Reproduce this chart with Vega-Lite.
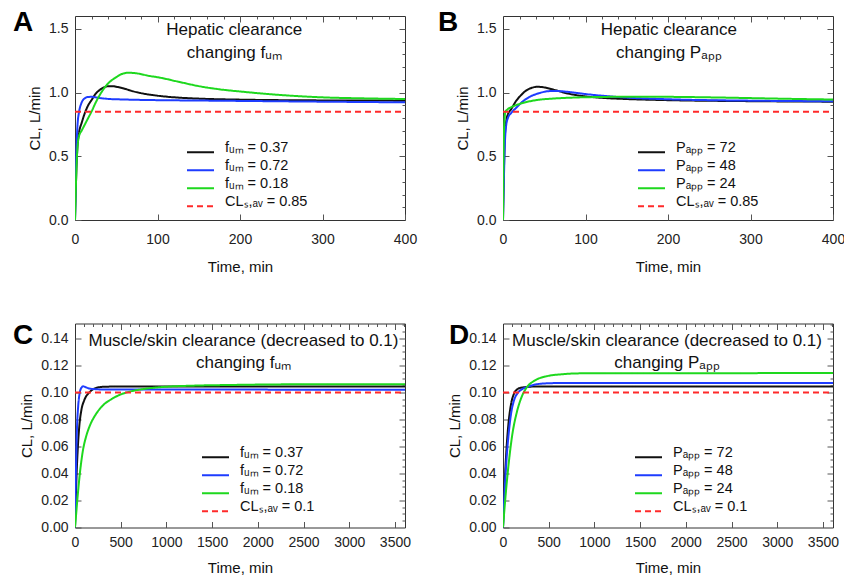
{
  "$schema": "https://vega.github.io/schema/vega-lite/v6.json",
  "padding": {"left": 12, "top": 8, "right": 0, "bottom": 0},
  "background": "white",
  "config": {
    "font": "Liberation Sans",
    "view": {"stroke": "#333333", "strokeWidth": 1},
    "axis": {"domain": false, "grid": false, "tickColor": "#555555", "tickSize": 6, "offset": -6, "tickWidth": 1, "labelFontSize": 14, "labelColor": "#222222", "labelFont": "Liberation Sans", "titleFont": "Liberation Sans", "titleFontSize": 15, "titleFontWeight": "normal", "titleColor": "#111111", "labelFlush": false, "labelOverlap": false},
    "axisX": {"labelPadding": 12, "titlePadding": 13},
    "axisY": {"labelPadding": 7, "titlePadding": 6},
    "legend": {"title": null, "symbolType": "stroke", "symbolSize": 729, "symbolStrokeWidth": 2, "labelFontSize": 14.5, "labelFont": "Liberation Sans", "labelColor": "#111111", "labelBaseline": "alphabetic", "clipHeight": 9.5, "rowPadding": 0, "labelOffset": 10, "orient": "none"}
  },
  "resolve": {"scale": {"color": "independent", "strokeDash": "independent"}, "legend": {"color": "independent", "strokeDash": "independent"}},
  "columns": 2,
  "bounds": "flush",
  "spacing": {"row": 103.5, "column": 98},
  "concat": [
    {
      "width": 330, "height": 204,
      "resolve": {"axis": {"x": "independent", "y": "independent"}},
      "layer": [
        {
          "data": {"values": [
            {"t":0,"cl":0,"s":"f\u1d64\u2098 = 0.37"},{"t":1,"cl":0.25,"s":"f\u1d64\u2098 = 0.37"},{"t":2,"cl":0.45,"s":"f\u1d64\u2098 = 0.37"},{"t":3,"cl":0.58,"s":"f\u1d64\u2098 = 0.37"},{"t":5,"cl":0.69,"s":"f\u1d64\u2098 = 0.37"},{"t":8,"cl":0.76,"s":"f\u1d64\u2098 = 0.37"},{"t":12,"cl":0.84,"s":"f\u1d64\u2098 = 0.37"},{"t":16,"cl":0.9,"s":"f\u1d64\u2098 = 0.37"},{"t":20,"cl":0.94,"s":"f\u1d64\u2098 = 0.37"},{"t":25,"cl":0.99,"s":"f\u1d64\u2098 = 0.37"},{"t":30,"cl":1.02,"s":"f\u1d64\u2098 = 0.37"},{"t":35,"cl":1.04,"s":"f\u1d64\u2098 = 0.37"},{"t":40,"cl":1.05,"s":"f\u1d64\u2098 = 0.37"},{"t":45,"cl":1.05,"s":"f\u1d64\u2098 = 0.37"},{"t":50,"cl":1.045,"s":"f\u1d64\u2098 = 0.37"},{"t":60,"cl":1.03,"s":"f\u1d64\u2098 = 0.37"},{"t":70,"cl":1.01,"s":"f\u1d64\u2098 = 0.37"},{"t":80,"cl":0.995,"s":"f\u1d64\u2098 = 0.37"},{"t":100,"cl":0.975,"s":"f\u1d64\u2098 = 0.37"},{"t":125,"cl":0.96,"s":"f\u1d64\u2098 = 0.37"},{"t":150,"cl":0.952,"s":"f\u1d64\u2098 = 0.37"},{"t":200,"cl":0.944,"s":"f\u1d64\u2098 = 0.37"},{"t":250,"cl":0.94,"s":"f\u1d64\u2098 = 0.37"},{"t":300,"cl":0.938,"s":"f\u1d64\u2098 = 0.37"},{"t":350,"cl":0.937,"s":"f\u1d64\u2098 = 0.37"},{"t":400,"cl":0.936,"s":"f\u1d64\u2098 = 0.37"},
            {"t":0,"cl":0,"s":"f\u1d64\u2098 = 0.72"},{"t":1,"cl":0.35,"s":"f\u1d64\u2098 = 0.72"},{"t":2,"cl":0.6,"s":"f\u1d64\u2098 = 0.72"},{"t":3,"cl":0.74,"s":"f\u1d64\u2098 = 0.72"},{"t":5,"cl":0.85,"s":"f\u1d64\u2098 = 0.72"},{"t":8,"cl":0.92,"s":"f\u1d64\u2098 = 0.72"},{"t":12,"cl":0.955,"s":"f\u1d64\u2098 = 0.72"},{"t":16,"cl":0.965,"s":"f\u1d64\u2098 = 0.72"},{"t":20,"cl":0.966,"s":"f\u1d64\u2098 = 0.72"},{"t":25,"cl":0.962,"s":"f\u1d64\u2098 = 0.72"},{"t":30,"cl":0.957,"s":"f\u1d64\u2098 = 0.72"},{"t":40,"cl":0.95,"s":"f\u1d64\u2098 = 0.72"},{"t":60,"cl":0.945,"s":"f\u1d64\u2098 = 0.72"},{"t":80,"cl":0.942,"s":"f\u1d64\u2098 = 0.72"},{"t":100,"cl":0.94,"s":"f\u1d64\u2098 = 0.72"},{"t":150,"cl":0.937,"s":"f\u1d64\u2098 = 0.72"},{"t":200,"cl":0.934,"s":"f\u1d64\u2098 = 0.72"},{"t":300,"cl":0.928,"s":"f\u1d64\u2098 = 0.72"},{"t":400,"cl":0.923,"s":"f\u1d64\u2098 = 0.72"},
            {"t":0,"cl":0,"s":"f\u1d64\u2098 = 0.18"},{"t":1,"cl":0.25,"s":"f\u1d64\u2098 = 0.18"},{"t":2,"cl":0.45,"s":"f\u1d64\u2098 = 0.18"},{"t":3,"cl":0.57,"s":"f\u1d64\u2098 = 0.18"},{"t":5,"cl":0.66,"s":"f\u1d64\u2098 = 0.18"},{"t":8,"cl":0.7,"s":"f\u1d64\u2098 = 0.18"},{"t":12,"cl":0.75,"s":"f\u1d64\u2098 = 0.18"},{"t":16,"cl":0.8,"s":"f\u1d64\u2098 = 0.18"},{"t":20,"cl":0.85,"s":"f\u1d64\u2098 = 0.18"},{"t":25,"cl":0.92,"s":"f\u1d64\u2098 = 0.18"},{"t":30,"cl":0.98,"s":"f\u1d64\u2098 = 0.18"},{"t":35,"cl":1.03,"s":"f\u1d64\u2098 = 0.18"},{"t":40,"cl":1.07,"s":"f\u1d64\u2098 = 0.18"},{"t":50,"cl":1.12,"s":"f\u1d64\u2098 = 0.18"},{"t":58,"cl":1.148,"s":"f\u1d64\u2098 = 0.18"},{"t":65,"cl":1.155,"s":"f\u1d64\u2098 = 0.18"},{"t":75,"cl":1.15,"s":"f\u1d64\u2098 = 0.18"},{"t":90,"cl":1.13,"s":"f\u1d64\u2098 = 0.18"},{"t":100,"cl":1.12,"s":"f\u1d64\u2098 = 0.18"},{"t":125,"cl":1.085,"s":"f\u1d64\u2098 = 0.18"},{"t":150,"cl":1.05,"s":"f\u1d64\u2098 = 0.18"},{"t":175,"cl":1.025,"s":"f\u1d64\u2098 = 0.18"},{"t":200,"cl":1.008,"s":"f\u1d64\u2098 = 0.18"},{"t":250,"cl":0.98,"s":"f\u1d64\u2098 = 0.18"},{"t":300,"cl":0.962,"s":"f\u1d64\u2098 = 0.18"},{"t":350,"cl":0.954,"s":"f\u1d64\u2098 = 0.18"},{"t":400,"cl":0.949,"s":"f\u1d64\u2098 = 0.18"},
            {"t":0,"cl":0.85,"s":"CL\u209b,\u2090\u1d65 = 0.85"},{"t":400,"cl":0.85,"s":"CL\u209b,\u2090\u1d65 = 0.85"}
          ]},
          "mark": {"type": "line", "strokeWidth": 2, "interpolate": "monotone", "clip": true},
          "encoding": {
            "x": {"field": "t", "type": "quantitative", "title": "Time, min", "scale": {"domain": [0, 400], "nice": false}, "axis": {"values": [0, 100, 200, 300, 400], "format": "d", "labelOverlap": false}},
            "y": {"field": "cl", "type": "quantitative", "title": "CL, L/min", "scale": {"domain": [0, 1.6], "nice": false}, "axis": {"values": [0, 0.5, 1, 1.5], "format": ".1f", "labelOverlap": false}},
            "color": {"field": "s", "type": "nominal", "scale": {"domain": ["f\u1d64\u2098 = 0.37", "f\u1d64\u2098 = 0.72", "f\u1d64\u2098 = 0.18", "CL\u209b,\u2090\u1d65 = 0.85"], "range": ["#111111", "#1e3cff", "#1ed81e", "#ff2a2a"]}, "legend": {"orient": "none", "legendX": 111, "legendY": 131.5, "title": null}},
            "strokeDash": {"field": "s", "type": "nominal", "scale": {"domain": ["f\u1d64\u2098 = 0.37", "f\u1d64\u2098 = 0.72", "f\u1d64\u2098 = 0.18", "CL\u209b,\u2090\u1d65 = 0.85"], "range": [[1, 0], [1, 0], [1, 0], [6, 4]]}, "legend": {"orient": "none", "legendX": 111, "legendY": 131.5, "title": null}}
          }
        },
        {
          "data": {"values": [{}]},
          "mark": {"type": "text", "align": "center", "baseline": "top", "fontSize": 17, "lineHeight": 23, "font": "Liberation Sans", "color": "#111111"},
          "encoding": {
            "x": {"datum": 193, "type": "quantitative", "axis": {"values": [20,40,60,80,120,140,160,180,220,240,260,280,320,340,360,380], "labels": false, "title": null, "tickSize": 3, "offset": -3}},
            "y": {"datum": 1.55, "type": "quantitative", "axis": {"values": [0.1,0.2,0.3,0.4,0.6,0.7,0.8,0.9,1.1,1.2,1.3,1.4], "labels": false, "title": null, "tickSize": 3, "offset": -3}},
            "text": {"value": ["Hepatic clearance", "changing f\u1d64\u2098"]}
          }
        },
        {
          "data": {"values": [{}]},
          "mark": {"type": "text", "text": "A", "align": "left", "baseline": "alphabetic", "fontSize": 28, "fontWeight": "bold", "font": "Liberation Sans", "color": "#000000", "clip": false},
          "encoding": {
            "x": {"datum": -75.15, "type": "quantitative", "axis": {"orient": "top", "values": [100, 200, 300], "labels": false, "title": null}},
            "y": {"datum": 1.482, "type": "quantitative", "axis": {"orient": "right", "values": [0.5, 1, 1.5], "labels": false, "title": null}}
          }
        }
      ]
    },
    {
      "width": 330, "height": 204,
      "resolve": {"axis": {"x": "independent", "y": "independent"}},
      "layer": [
        {
          "data": {"values": [
            {"t":0,"cl":0,"s":"P\u2090\u209a\u209a = 72"},{"t":1,"cl":0.35,"s":"P\u2090\u209a\u209a = 72"},{"t":2,"cl":0.62,"s":"P\u2090\u209a\u209a = 72"},{"t":4,"cl":0.78,"s":"P\u2090\u209a\u209a = 72"},{"t":6,"cl":0.83,"s":"P\u2090\u209a\u209a = 72"},{"t":10,"cl":0.87,"s":"P\u2090\u209a\u209a = 72"},{"t":16,"cl":0.935,"s":"P\u2090\u209a\u209a = 72"},{"t":22,"cl":0.98,"s":"P\u2090\u209a\u209a = 72"},{"t":28,"cl":1.015,"s":"P\u2090\u209a\u209a = 72"},{"t":35,"cl":1.037,"s":"P\u2090\u209a\u209a = 72"},{"t":42,"cl":1.045,"s":"P\u2090\u209a\u209a = 72"},{"t":50,"cl":1.04,"s":"P\u2090\u209a\u209a = 72"},{"t":64,"cl":1.017,"s":"P\u2090\u209a\u209a = 72"},{"t":80,"cl":0.99,"s":"P\u2090\u209a\u209a = 72"},{"t":97,"cl":0.972,"s":"P\u2090\u209a\u209a = 72"},{"t":120,"cl":0.958,"s":"P\u2090\u209a\u209a = 72"},{"t":145,"cl":0.95,"s":"P\u2090\u209a\u209a = 72"},{"t":200,"cl":0.94,"s":"P\u2090\u209a\u209a = 72"},{"t":300,"cl":0.932,"s":"P\u2090\u209a\u209a = 72"},{"t":400,"cl":0.928,"s":"P\u2090\u209a\u209a = 72"},
            {"t":0,"cl":0,"s":"P\u2090\u209a\u209a = 48"},{"t":1,"cl":0.3,"s":"P\u2090\u209a\u209a = 48"},{"t":2,"cl":0.55,"s":"P\u2090\u209a\u209a = 48"},{"t":4,"cl":0.75,"s":"P\u2090\u209a\u209a = 48"},{"t":6,"cl":0.8,"s":"P\u2090\u209a\u209a = 48"},{"t":10,"cl":0.84,"s":"P\u2090\u209a\u209a = 48"},{"t":16,"cl":0.88,"s":"P\u2090\u209a\u209a = 48"},{"t":24,"cl":0.93,"s":"P\u2090\u209a\u209a = 48"},{"t":32,"cl":0.965,"s":"P\u2090\u209a\u209a = 48"},{"t":44,"cl":0.995,"s":"P\u2090\u209a\u209a = 48"},{"t":52,"cl":1.008,"s":"P\u2090\u209a\u209a = 48"},{"t":60,"cl":1.012,"s":"P\u2090\u209a\u209a = 48"},{"t":70,"cl":1.01,"s":"P\u2090\u209a\u209a = 48"},{"t":85,"cl":1.0,"s":"P\u2090\u209a\u209a = 48"},{"t":100,"cl":0.988,"s":"P\u2090\u209a\u209a = 48"},{"t":125,"cl":0.972,"s":"P\u2090\u209a\u209a = 48"},{"t":150,"cl":0.96,"s":"P\u2090\u209a\u209a = 48"},{"t":200,"cl":0.947,"s":"P\u2090\u209a\u209a = 48"},{"t":300,"cl":0.936,"s":"P\u2090\u209a\u209a = 48"},{"t":400,"cl":0.931,"s":"P\u2090\u209a\u209a = 48"},
            {"t":0,"cl":0,"s":"P\u2090\u209a\u209a = 24"},{"t":0.5,"cl":0.4,"s":"P\u2090\u209a\u209a = 24"},{"t":1,"cl":0.65,"s":"P\u2090\u209a\u209a = 24"},{"t":2,"cl":0.8,"s":"P\u2090\u209a\u209a = 24"},{"t":3,"cl":0.85,"s":"P\u2090\u209a\u209a = 24"},{"t":5,"cl":0.865,"s":"P\u2090\u209a\u209a = 24"},{"t":10,"cl":0.885,"s":"P\u2090\u209a\u209a = 24"},{"t":20,"cl":0.91,"s":"P\u2090\u209a\u209a = 24"},{"t":40,"cl":0.94,"s":"P\u2090\u209a\u209a = 24"},{"t":60,"cl":0.952,"s":"P\u2090\u209a\u209a = 24"},{"t":85,"cl":0.96,"s":"P\u2090\u209a\u209a = 24"},{"t":120,"cl":0.965,"s":"P\u2090\u209a\u209a = 24"},{"t":150,"cl":0.967,"s":"P\u2090\u209a\u209a = 24"},{"t":200,"cl":0.966,"s":"P\u2090\u209a\u209a = 24"},{"t":250,"cl":0.962,"s":"P\u2090\u209a\u209a = 24"},{"t":300,"cl":0.956,"s":"P\u2090\u209a\u209a = 24"},{"t":350,"cl":0.95,"s":"P\u2090\u209a\u209a = 24"},{"t":400,"cl":0.945,"s":"P\u2090\u209a\u209a = 24"},
            {"t":0,"cl":0.85,"s":"CL\u209b,\u2090\u1d65 = 0.85"},{"t":400,"cl":0.85,"s":"CL\u209b,\u2090\u1d65 = 0.85"}
          ]},
          "mark": {"type": "line", "strokeWidth": 2, "interpolate": "monotone", "clip": true},
          "encoding": {
            "x": {"field": "t", "type": "quantitative", "title": "Time, min", "scale": {"domain": [0, 400], "nice": false}, "axis": {"values": [0, 100, 200, 300, 400], "format": "d", "labelOverlap": false}},
            "y": {"field": "cl", "type": "quantitative", "title": "CL, L/min", "scale": {"domain": [0, 1.6], "nice": false}, "axis": {"values": [0, 0.5, 1, 1.5], "format": ".1f", "labelOverlap": false}},
            "color": {"field": "s", "type": "nominal", "scale": {"domain": ["P\u2090\u209a\u209a = 72", "P\u2090\u209a\u209a = 48", "P\u2090\u209a\u209a = 24", "CL\u209b,\u2090\u1d65 = 0.85"], "range": ["#111111", "#1e3cff", "#1ed81e", "#ff2a2a"]}, "legend": {"orient": "none", "legendX": 134, "legendY": 131.5, "title": null}},
            "strokeDash": {"field": "s", "type": "nominal", "scale": {"domain": ["P\u2090\u209a\u209a = 72", "P\u2090\u209a\u209a = 48", "P\u2090\u209a\u209a = 24", "CL\u209b,\u2090\u1d65 = 0.85"], "range": [[1, 0], [1, 0], [1, 0], [6, 4]]}, "legend": {"orient": "none", "legendX": 134, "legendY": 131.5, "title": null}}
          }
        },
        {
          "data": {"values": [{}]},
          "mark": {"type": "text", "align": "center", "baseline": "top", "fontSize": 17, "lineHeight": 23, "font": "Liberation Sans", "color": "#111111"},
          "encoding": {
            "x": {"datum": 201, "type": "quantitative", "axis": {"values": [20,40,60,80,120,140,160,180,220,240,260,280,320,340,360,380], "labels": false, "title": null, "tickSize": 3, "offset": -3}},
            "y": {"datum": 1.55, "type": "quantitative", "axis": {"values": [0.1,0.2,0.3,0.4,0.6,0.7,0.8,0.9,1.1,1.2,1.3,1.4], "labels": false, "title": null, "tickSize": 3, "offset": -3}},
            "text": {"value": ["Hepatic clearance", "changing P\u2090\u209a\u209a"]}
          }
        },
        {
          "data": {"values": [{}]},
          "mark": {"type": "text", "text": "B", "align": "left", "baseline": "alphabetic", "fontSize": 28, "fontWeight": "bold", "font": "Liberation Sans", "color": "#000000", "clip": false},
          "encoding": {
            "x": {"datum": -78.8, "type": "quantitative", "axis": {"orient": "top", "values": [100, 200, 300], "labels": false, "title": null}},
            "y": {"datum": 1.482, "type": "quantitative", "axis": {"orient": "right", "values": [0.5, 1, 1.5], "labels": false, "title": null}}
          }
        }
      ]
    },
    {
      "width": 330, "height": 204,
      "resolve": {"axis": {"x": "independent", "y": "independent"}},
      "layer": [
        {
          "data": {"values": [
            {"t":0,"cl":0,"s":"f\u1d64\u2098 = 0.37"},{"t":8,"cl":0.02,"s":"f\u1d64\u2098 = 0.37"},{"t":15,"cl":0.035,"s":"f\u1d64\u2098 = 0.37"},{"t":30,"cl":0.058,"s":"f\u1d64\u2098 = 0.37"},{"t":47,"cl":0.075,"s":"f\u1d64\u2098 = 0.37"},{"t":70,"cl":0.087,"s":"f\u1d64\u2098 = 0.37"},{"t":100,"cl":0.094,"s":"f\u1d64\u2098 = 0.37"},{"t":157,"cl":0.1,"s":"f\u1d64\u2098 = 0.37"},{"t":220,"cl":0.103,"s":"f\u1d64\u2098 = 0.37"},{"t":300,"cl":0.1041,"s":"f\u1d64\u2098 = 0.37"},{"t":500,"cl":0.1044,"s":"f\u1d64\u2098 = 0.37"},{"t":3610,"cl":0.1044,"s":"f\u1d64\u2098 = 0.37"},
            {"t":0,"cl":0,"s":"f\u1d64\u2098 = 0.72"},{"t":5,"cl":0.022,"s":"f\u1d64\u2098 = 0.72"},{"t":10,"cl":0.04,"s":"f\u1d64\u2098 = 0.72"},{"t":20,"cl":0.07,"s":"f\u1d64\u2098 = 0.72"},{"t":35,"cl":0.09,"s":"f\u1d64\u2098 = 0.72"},{"t":50,"cl":0.099,"s":"f\u1d64\u2098 = 0.72"},{"t":66,"cl":0.103,"s":"f\u1d64\u2098 = 0.72"},{"t":90,"cl":0.1045,"s":"f\u1d64\u2098 = 0.72"},{"t":120,"cl":0.1037,"s":"f\u1d64\u2098 = 0.72"},{"t":170,"cl":0.1027,"s":"f\u1d64\u2098 = 0.72"},{"t":300,"cl":0.1022,"s":"f\u1d64\u2098 = 0.72"},{"t":3610,"cl":0.102,"s":"f\u1d64\u2098 = 0.72"},
            {"t":0,"cl":0,"s":"f\u1d64\u2098 = 0.18"},{"t":15,"cl":0.012,"s":"f\u1d64\u2098 = 0.18"},{"t":30,"cl":0.024,"s":"f\u1d64\u2098 = 0.18"},{"t":50,"cl":0.038,"s":"f\u1d64\u2098 = 0.18"},{"t":84,"cl":0.056,"s":"f\u1d64\u2098 = 0.18"},{"t":120,"cl":0.067,"s":"f\u1d64\u2098 = 0.18"},{"t":160,"cl":0.075,"s":"f\u1d64\u2098 = 0.18"},{"t":230,"cl":0.084,"s":"f\u1d64\u2098 = 0.18"},{"t":300,"cl":0.09,"s":"f\u1d64\u2098 = 0.18"},{"t":412,"cl":0.0955,"s":"f\u1d64\u2098 = 0.18"},{"t":500,"cl":0.0985,"s":"f\u1d64\u2098 = 0.18"},{"t":594,"cl":0.1005,"s":"f\u1d64\u2098 = 0.18"},{"t":750,"cl":0.1025,"s":"f\u1d64\u2098 = 0.18"},{"t":959,"cl":0.104,"s":"f\u1d64\u2098 = 0.18"},{"t":1300,"cl":0.105,"s":"f\u1d64\u2098 = 0.18"},{"t":1700,"cl":0.1055,"s":"f\u1d64\u2098 = 0.18"},{"t":2500,"cl":0.106,"s":"f\u1d64\u2098 = 0.18"},{"t":3610,"cl":0.106,"s":"f\u1d64\u2098 = 0.18"},
            {"t":0,"cl":0.1,"s":"CL\u209b,\u2090\u1d65 = 0.1"},{"t":3610,"cl":0.1,"s":"CL\u209b,\u2090\u1d65 = 0.1"}
          ]},
          "mark": {"type": "line", "strokeWidth": 2, "interpolate": "monotone", "clip": true},
          "encoding": {
            "x": {"field": "t", "type": "quantitative", "title": "Time, min", "scale": {"domain": [0, 3610], "nice": false}, "axis": {"values": [0, 500, 1000, 1500, 2000, 2500, 3000, 3500], "format": "d", "labelOverlap": false, "labelPadding": 8, "titlePadding": 11}},
            "y": {"field": "cl", "type": "quantitative", "title": "CL, L/min", "scale": {"domain": [0, 0.151], "nice": false}, "axis": {"values": [0, 0.02, 0.04, 0.06, 0.08, 0.1, 0.12, 0.14], "format": ".2f", "labelOverlap": false}},
            "color": {"field": "s", "type": "nominal", "scale": {"domain": ["f\u1d64\u2098 = 0.37", "f\u1d64\u2098 = 0.72", "f\u1d64\u2098 = 0.18", "CL\u209b,\u2090\u1d65 = 0.1"], "range": ["#111111", "#1e3cff", "#1ed81e", "#ff2a2a"]}, "legend": {"orient": "none", "legendX": 126, "legendY": 129, "title": null}},
            "strokeDash": {"field": "s", "type": "nominal", "scale": {"domain": ["f\u1d64\u2098 = 0.37", "f\u1d64\u2098 = 0.72", "f\u1d64\u2098 = 0.18", "CL\u209b,\u2090\u1d65 = 0.1"], "range": [[1, 0], [1, 0], [1, 0], [6, 4]]}, "legend": {"orient": "none", "legendX": 126, "legendY": 129, "title": null}}
          }
        },
        {
          "data": {"values": [{}]},
          "mark": {"type": "text", "align": "center", "baseline": "top", "fontSize": 17, "lineHeight": 22, "font": "Liberation Sans", "color": "#111111"},
          "encoding": {
            "x": {"datum": 1843, "type": "quantitative", "axis": {"values": [100,200,300,400,600,700,800,900,1100,1200,1300,1400,1600,1700,1800,1900,2100,2200,2300,2400,2600,2700,2800,2900,3100,3200,3300,3400,3600], "labels": false, "title": null, "tickSize": 3, "offset": -3}},
            "y": {"datum": 0.1437, "type": "quantitative", "axis": {"values": [0.005,0.01,0.015,0.025,0.03,0.035,0.045,0.05,0.055,0.065,0.07,0.075,0.085,0.09,0.095,0.105,0.11,0.115,0.125,0.13,0.135,0.145,0.15], "labels": false, "title": null, "tickSize": 3, "offset": -3}},
            "text": {"value": ["Muscle/skin clearance (decreased to 0.1)", "changing f\u1d64\u2098"]}
          }
        },
        {
          "data": {"values": [{}]},
          "mark": {"type": "text", "text": "C", "align": "left", "baseline": "alphabetic", "fontSize": 28, "fontWeight": "bold", "font": "Liberation Sans", "color": "#000000", "clip": false},
          "encoding": {
            "x": {"datum": -678.2, "type": "quantitative", "axis": {"orient": "top", "values": [500, 1000, 1500, 2000, 2500, 3000, 3500], "labels": false, "title": null}},
            "y": {"datum": 0.1358, "type": "quantitative", "axis": {"orient": "right", "values": [0.02, 0.04, 0.06, 0.08, 0.1, 0.12, 0.14], "labels": false, "title": null}}
          }
        }
      ]
    },
    {
      "width": 330, "height": 204,
      "resolve": {"axis": {"x": "independent", "y": "independent"}},
      "layer": [
        {
          "data": {"values": [
            {"t":0,"cl":0,"s":"P\u2090\u209a\u209a = 72"},{"t":20,"cl":0.035,"s":"P\u2090\u209a\u209a = 72"},{"t":40,"cl":0.06,"s":"P\u2090\u209a\u209a = 72"},{"t":60,"cl":0.077,"s":"P\u2090\u209a\u209a = 72"},{"t":90,"cl":0.092,"s":"P\u2090\u209a\u209a = 72"},{"t":120,"cl":0.099,"s":"P\u2090\u209a\u209a = 72"},{"t":160,"cl":0.1025,"s":"P\u2090\u209a\u209a = 72"},{"t":200,"cl":0.1035,"s":"P\u2090\u209a\u209a = 72"},{"t":263,"cl":0.104,"s":"P\u2090\u209a\u209a = 72"},{"t":350,"cl":0.1044,"s":"P\u2090\u209a\u209a = 72"},{"t":3610,"cl":0.1044,"s":"P\u2090\u209a\u209a = 72"},
            {"t":0,"cl":0,"s":"P\u2090\u209a\u209a = 48"},{"t":20,"cl":0.03,"s":"P\u2090\u209a\u209a = 48"},{"t":40,"cl":0.052,"s":"P\u2090\u209a\u209a = 48"},{"t":60,"cl":0.068,"s":"P\u2090\u209a\u209a = 48"},{"t":90,"cl":0.085,"s":"P\u2090\u209a\u209a = 48"},{"t":120,"cl":0.094,"s":"P\u2090\u209a\u209a = 48"},{"t":160,"cl":0.0995,"s":"P\u2090\u209a\u209a = 48"},{"t":200,"cl":0.102,"s":"P\u2090\u209a\u209a = 48"},{"t":263,"cl":0.104,"s":"P\u2090\u209a\u209a = 48"},{"t":350,"cl":0.1058,"s":"P\u2090\u209a\u209a = 48"},{"t":450,"cl":0.1066,"s":"P\u2090\u209a\u209a = 48"},{"t":600,"cl":0.1069,"s":"P\u2090\u209a\u209a = 48"},{"t":3610,"cl":0.1069,"s":"P\u2090\u209a\u209a = 48"},
            {"t":0,"cl":0,"s":"P\u2090\u209a\u209a = 24"},{"t":30,"cl":0.025,"s":"P\u2090\u209a\u209a = 24"},{"t":60,"cl":0.046,"s":"P\u2090\u209a\u209a = 24"},{"t":100,"cl":0.068,"s":"P\u2090\u209a\u209a = 24"},{"t":150,"cl":0.085,"s":"P\u2090\u209a\u209a = 24"},{"t":200,"cl":0.096,"s":"P\u2090\u209a\u209a = 24"},{"t":263,"cl":0.104,"s":"P\u2090\u209a\u209a = 24"},{"t":340,"cl":0.1085,"s":"P\u2090\u209a\u209a = 24"},{"t":480,"cl":0.112,"s":"P\u2090\u209a\u209a = 24"},{"t":660,"cl":0.1135,"s":"P\u2090\u209a\u209a = 24"},{"t":850,"cl":0.1141,"s":"P\u2090\u209a\u209a = 24"},{"t":3610,"cl":0.1143,"s":"P\u2090\u209a\u209a = 24"},
            {"t":0,"cl":0.1,"s":"CL\u209b,\u2090\u1d65 = 0.1"},{"t":3610,"cl":0.1,"s":"CL\u209b,\u2090\u1d65 = 0.1"}
          ]},
          "mark": {"type": "line", "strokeWidth": 2, "interpolate": "monotone", "clip": true},
          "encoding": {
            "x": {"field": "t", "type": "quantitative", "title": "Time, min", "scale": {"domain": [0, 3610], "nice": false}, "axis": {"values": [0, 500, 1000, 1500, 2000, 2500, 3000, 3500], "format": "d", "labelOverlap": false, "labelPadding": 8, "titlePadding": 11}},
            "y": {"field": "cl", "type": "quantitative", "title": "CL, L/min", "scale": {"domain": [0, 0.151], "nice": false}, "axis": {"values": [0, 0.02, 0.04, 0.06, 0.08, 0.1, 0.12, 0.14], "format": ".2f", "labelOverlap": false}},
            "color": {"field": "s", "type": "nominal", "scale": {"domain": ["P\u2090\u209a\u209a = 72", "P\u2090\u209a\u209a = 48", "P\u2090\u209a\u209a = 24", "CL\u209b,\u2090\u1d65 = 0.1"], "range": ["#111111", "#1e3cff", "#1ed81e", "#ff2a2a"]}, "legend": {"orient": "none", "legendX": 131, "legendY": 129, "title": null}},
            "strokeDash": {"field": "s", "type": "nominal", "scale": {"domain": ["P\u2090\u209a\u209a = 72", "P\u2090\u209a\u209a = 48", "P\u2090\u209a\u209a = 24", "CL\u209b,\u2090\u1d65 = 0.1"], "range": [[1, 0], [1, 0], [1, 0], [6, 4]]}, "legend": {"orient": "none", "legendX": 131, "legendY": 129, "title": null}}
          }
        },
        {
          "data": {"values": [{}]},
          "mark": {"type": "text", "align": "center", "baseline": "top", "fontSize": 17, "lineHeight": 22, "font": "Liberation Sans", "color": "#111111"},
          "encoding": {
            "x": {"datum": 1794, "type": "quantitative", "axis": {"values": [100,200,300,400,600,700,800,900,1100,1200,1300,1400,1600,1700,1800,1900,2100,2200,2300,2400,2600,2700,2800,2900,3100,3200,3300,3400,3600], "labels": false, "title": null, "tickSize": 3, "offset": -3}},
            "y": {"datum": 0.1437, "type": "quantitative", "axis": {"values": [0.005,0.01,0.015,0.025,0.03,0.035,0.045,0.05,0.055,0.065,0.07,0.075,0.085,0.09,0.095,0.105,0.11,0.115,0.125,0.13,0.135,0.145,0.15], "labels": false, "title": null, "tickSize": 3, "offset": -3}},
            "text": {"value": ["Muscle/skin clearance (decreased to 0.1)", "changing P\u2090\u209a\u209a"]}
          }
        },
        {
          "data": {"values": [{}]},
          "mark": {"type": "text", "text": "D", "align": "left", "baseline": "alphabetic", "fontSize": 28, "fontWeight": "bold", "font": "Liberation Sans", "color": "#000000", "clip": false},
          "encoding": {
            "x": {"datum": -590.7, "type": "quantitative", "axis": {"orient": "top", "values": [500, 1000, 1500, 2000, 2500, 3000, 3500], "labels": false, "title": null}},
            "y": {"datum": 0.1358, "type": "quantitative", "axis": {"orient": "right", "values": [0.02, 0.04, 0.06, 0.08, 0.1, 0.12, 0.14], "labels": false, "title": null}}
          }
        }
      ]
    }
  ]
}
